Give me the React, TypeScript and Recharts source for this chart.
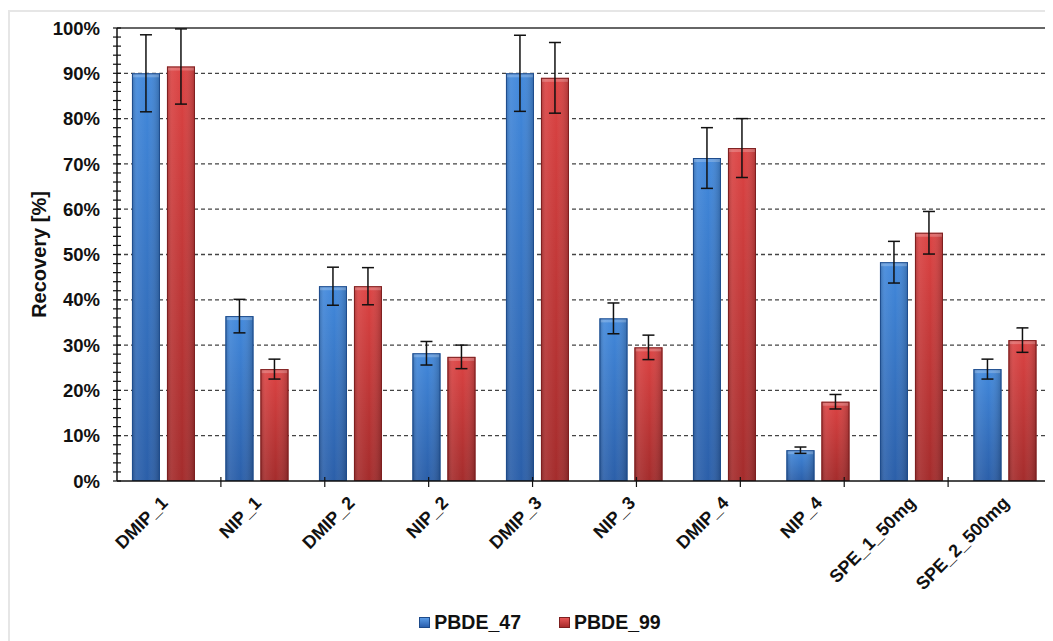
import React from "react";
import {
  BarChart,
  Bar,
  XAxis,
  YAxis,
  CartesianGrid,
  ErrorBar,
  Legend,
  ReferenceLine,
} from "recharts";

const categories = [
  "DMIP_1",
  "NIP_1",
  "DMIP_2",
  "NIP_2",
  "DMIP_3",
  "NIP_3",
  "DMIP_4",
  "NIP_4",
  "SPE_1_50mg",
  "SPE_2_500mg",
];
const pbde47 = [0.9, 0.364, 0.43, 0.282, 0.9, 0.359, 0.713, 0.068, 0.483, 0.247];
const pbde47Err = [0.085, 0.037, 0.042, 0.026, 0.084, 0.034, 0.067, 0.007, 0.046, 0.022];
const pbde99 = [0.915, 0.247, 0.43, 0.274, 0.89, 0.295, 0.735, 0.175, 0.548, 0.311];
const pbde99Err = [0.083, 0.022, 0.041, 0.026, 0.078, 0.027, 0.065, 0.016, 0.047, 0.027];

const majorTicks = [0, 0.1, 0.2, 0.3, 0.4, 0.5, 0.6, 0.7, 0.8, 0.9, 1];
const gridValues = [0.1, 0.2, 0.3, 0.4, 0.5, 0.6, 0.7, 0.8, 0.9];
const yTicks = [
  0, 0.02, 0.04, 0.06, 0.08, 0.1, 0.12, 0.14, 0.16, 0.18, 0.2, 0.22, 0.24, 0.26, 0.28,
  0.3, 0.32, 0.34, 0.36, 0.38, 0.4, 0.42, 0.44, 0.46, 0.48, 0.5, 0.52, 0.54, 0.56, 0.58,
  0.6, 0.62, 0.64, 0.66, 0.68, 0.7, 0.72, 0.74, 0.76, 0.78, 0.8, 0.82, 0.84, 0.86, 0.88,
  0.9, 0.92, 0.94, 0.96, 0.98, 1,
];
const boundaryTicks = [1, 2, 3, 4, 5, 6, 7, 8, 9, 10];

const seriesNames = ["PBDE_47", "PBDE_99"];

const data = categories.map((c, i) => ({
  category: c,
  p47: pbde47[i],
  e47: pbde47Err[i],
  p99: pbde99[i],
  e99: pbde99Err[i],
}));

const FONT = '"Liberation Sans", Arial, Helvetica, sans-serif';

const isMajor = (v: number) => majorTicks.some((m) => Math.abs(m - v) < 1e-6);

const YTick = (props: any) => {
  const { x, y, payload } = props;
  const v = payload.value as number;
  return (
    <g>
      <line x1={x - 4} x2={x + 4} y1={y} y2={y} stroke="#111" strokeWidth={1.2} />
      {isMajor(v) ? (
        <text
          x={x - 17}
          y={y}
          dy="0.36em"
          textAnchor="end"
          fontSize={18.5}
          fontWeight="bold"
          fontFamily={FONT}
          fill="#111"
        >
          {Math.round(v * 100) + "%"}
        </text>
      ) : null}
    </g>
  );
};

const XTick = (props: any) => {
  const { x, y, payload } = props;
  return (
    <text
      x={0}
      y={0}
      textAnchor="end"
      transform={`translate(${x + 5},${y + 22}) rotate(-45)`}
      fontSize={18}
      fontWeight="bold"
      fontFamily={FONT}
      fill="#111"
    >
      {payload.value}
    </text>
  );
};

const BoundTick = (props: any) => {
  const { x, y } = props;
  return <line x1={x} x2={x} y1={y - 4} y2={y + 6} stroke="#111" strokeWidth={1.2} />;
};

const GlossBar = (props: any) => {
  const { x, y, width, height, grad, edge } = props;
  if (!height || height <= 0) return null;
  return (
    <g>
      <rect x={x} y={y} width={width} height={height} fill={`url(#${grad})`} />
      <rect x={x} y={y} width={width} height={height} fill="url(#hshade)" />
      <rect
        x={x + 1}
        y={y}
        width={Math.max(0, width - 2)}
        height={Math.min(4, height)}
        fill="#ffffff"
        opacity={0.22}
      />
      <rect
        x={x + 0.5}
        y={y + 0.5}
        width={Math.max(0, width - 1)}
        height={Math.max(0, height - 1)}
        fill="none"
        stroke={edge}
        strokeWidth={1}
      />
    </g>
  );
};

const LegendContent = () => {
  const items = [
    { name: seriesNames[0], bg: "linear-gradient(#5a9be6, #2a5fae)", edge: "#1d4a8a" },
    { name: seriesNames[1], bg: "linear-gradient(#e65555, #a82b2b)", edge: "#7d1f1f" },
  ];
  return (
    <div
      style={{
        display: "flex",
        justifyContent: "center",
        alignItems: "center",
        height: 24,
        fontFamily: FONT,
        paddingLeft: 18,
      }}
    >
      {items.map((it, i) => (
        <div
          key={it.name}
          style={{ display: "flex", alignItems: "center", marginLeft: i === 0 ? 0 : 38 }}
        >
          <span
            style={{
              display: "inline-block",
              width: 9,
              height: 9,
              background: it.bg,
              border: `1px solid ${it.edge}`,
              marginRight: 4,
            }}
          />
          <span style={{ fontSize: 19.5, fontWeight: "bold", color: "#111" }}>{it.name}</span>
        </div>
      ))}
    </div>
  );
};

export default function App() {
  return (
    <div style={{ paddingTop: 2 }}>
      <div
        style={{
          borderTop: "2px solid #e6e6e6",
          borderLeft: "2px solid #e6e6e6",
          width: 1100,
          height: 700,
          background: "#fff",
        }}
      >
        <BarChart
          width={1045}
          height={629}
          data={data}
          margin={{ top: 16, right: 3, left: 0, bottom: 7 }}
          barCategoryGap="16%"
          barGap={7}
        >
          <defs>
            <linearGradient id="g47" x1="0" y1="0" x2="0" y2="1">
              <stop offset="0%" stopColor="#4289dc" />
              <stop offset="100%" stopColor="#2b5fa9" />
            </linearGradient>
            <linearGradient id="g99" x1="0" y1="0" x2="0" y2="1">
              <stop offset="0%" stopColor="#dc4343" />
              <stop offset="100%" stopColor="#a42c2c" />
            </linearGradient>
            <linearGradient id="hshade" x1="0" y1="0" x2="1" y2="0">
              <stop offset="0%" stopColor="#000" stopOpacity={0.22} />
              <stop offset="18%" stopColor="#fff" stopOpacity={0.08} />
              <stop offset="55%" stopColor="#fff" stopOpacity={0} />
              <stop offset="100%" stopColor="#000" stopOpacity={0.22} />
            </linearGradient>
          </defs>
          <CartesianGrid
            xAxisId="main"
            yAxisId="main"
            vertical={false}
            horizontalValues={gridValues}
            stroke="#444"
            strokeWidth={1.3}
            strokeDasharray="4 3"
          />
          <XAxis
            xAxisId="bnd"
            type="number"
            domain={[0, 10]}
            ticks={boundaryTicks}
            interval={0}
            height={1}
            tickSize={0}
            tickMargin={0}
            tickLine={false}
            axisLine={{ stroke: "#111", strokeWidth: 1.5 }}
            tick={<BoundTick />}
          />
          <XAxis
            xAxisId="main"
            dataKey="category"
            type="category"
            interval={0}
            height={128}
            tickSize={0}
            tickMargin={0}
            tickLine={false}
            axisLine={false}
            tick={<XTick />}
          />
          <YAxis
            yAxisId="main"
            type="number"
            domain={[0, 1]}
            ticks={yTicks}
            interval={0}
            width={107}
            tickSize={0}
            tickMargin={0}
            tickLine={false}
            axisLine={{ stroke: "#111", strokeWidth: 1.5 }}
            tick={<YTick />}
            label={(p: any) => {
              const vb = p.viewBox || {};
              const cx = (vb.x || 0) + 29;
              const cy = (vb.y || 0) + (vb.height || 0) / 2;
              return (
                <text
                  x={cx}
                  y={cy}
                  transform={`rotate(-90, ${cx}, ${cy})`}
                  textAnchor="middle"
                  dominantBaseline="central"
                  fontSize={20}
                  fontWeight="bold"
                  fontFamily={FONT}
                  fill="#111"
                >
                  Recovery [%]
                </text>
              );
            }}
          />
          <ReferenceLine yAxisId="main" xAxisId="main" y={1} stroke="#333" strokeWidth={1.5} />
          <ReferenceLine yAxisId="main" xAxisId="bnd" x={10} stroke="#111" strokeWidth={1.5} />
          <Legend verticalAlign="bottom" height={24} content={<LegendContent />} />
          <Bar
            xAxisId="main"
            yAxisId="main"
            dataKey="p47"
            name={seriesNames[0]}
            fill="#3a7bd0"
            isAnimationActive={false}
            shape={(p: any) => <GlossBar {...p} grad="g47" edge="#1f4c8c" />}
          >
            <ErrorBar dataKey="e47" width={6} stroke="#111" strokeWidth={1.5} direction="y" />
          </Bar>
          <Bar
            xAxisId="main"
            yAxisId="main"
            dataKey="p99"
            name={seriesNames[1]}
            fill="#c83a3a"
            isAnimationActive={false}
            shape={(p: any) => <GlossBar {...p} grad="g99" edge="#7d2020" />}
          >
            <ErrorBar dataKey="e99" width={6} stroke="#111" strokeWidth={1.5} direction="y" />
          </Bar>
        </BarChart>
      </div>
    </div>
  );
}
